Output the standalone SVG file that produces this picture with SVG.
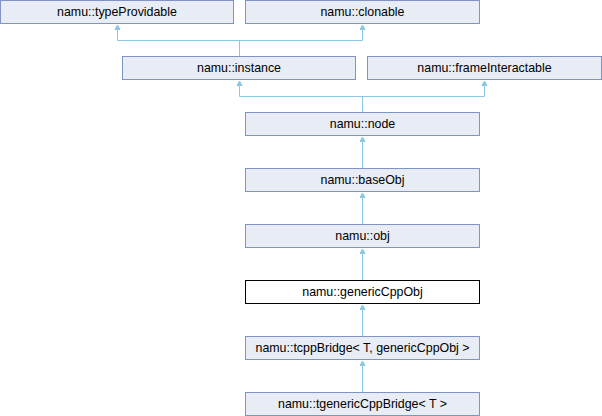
<svg xmlns="http://www.w3.org/2000/svg" width="602" height="416" viewBox="0 0 602 416">
<style>
.n rect{fill:#e8ecf4;stroke:#7f93c5;stroke-width:1}
.n text{font-family:"Liberation Sans",Arial,sans-serif;font-size:12.4px;fill:#000;text-anchor:middle}
.cur rect{fill:#fff;stroke:#000}
.e line,.e polyline{stroke:#8cc6e7;stroke-width:1;fill:none}
.e polygon{fill:#8cc6e7;stroke:#8cc6e7;stroke-width:1}
</style>
<rect width="602" height="416" fill="#fff"/>
<g class="e" id="connectors">
<polyline points="117.5,27 117.5,40.5 362.5,40.5 362.5,27"/>
<line x1="239.5" y1="40.5" x2="239.5" y2="56"/>
<polygon points="117.5,25 115,29.5 120,29.5"/>
<polygon points="362.5,25 360,29.5 365,29.5"/>
<polyline points="239.5,83 239.5,96.5 484.5,96.5 484.5,83"/>
<line x1="362.5" y1="96.5" x2="362.5" y2="112"/>
<polygon points="239.5,81 237,85.5 242,85.5"/>
<polygon points="484.5,81 482,85.5 487,85.5"/>
<line x1="362.5" y1="139" x2="362.5" y2="168"/>
<polygon points="362.5,137 360,141.5 365,141.5"/>
<line x1="362.5" y1="195" x2="362.5" y2="224"/>
<polygon points="362.5,193 360,197.5 365,197.5"/>
<line x1="362.5" y1="251" x2="362.5" y2="280"/>
<polygon points="362.5,249 360,253.5 365,253.5"/>
<line x1="362.5" y1="307" x2="362.5" y2="336"/>
<polygon points="362.5,305 360,309.5 365,309.5"/>
<line x1="362.5" y1="363" x2="362.5" y2="392"/>
<polygon points="362.5,361 360,365.5 365,365.5"/>
</g>
<g class="n" id="typeProvidable"><rect x="0.5" y="0.5" width="233" height="23"/><text x="117" y="16">namu::typeProvidable</text></g>
<g class="n" id="clonable"><rect x="245.5" y="0.5" width="234" height="23"/><text x="362.5" y="16">namu::clonable</text></g>
<g class="n" id="instance"><rect x="122.5" y="56.5" width="233" height="23"/><text x="239" y="72">namu::instance</text></g>
<g class="n" id="frameInteractable"><rect x="367.5" y="56.5" width="234" height="23"/><text x="484.5" y="72">namu::frameInteractable</text></g>
<g class="n" id="node"><rect x="245.5" y="112.5" width="234" height="23"/><text x="362.5" y="128">namu::node</text></g>
<g class="n" id="baseObj"><rect x="245.5" y="168.5" width="234" height="23"/><text x="362.5" y="184">namu::baseObj</text></g>
<g class="n" id="obj"><rect x="245.5" y="224.5" width="234" height="23"/><text x="362.5" y="240">namu::obj</text></g>
<g class="n cur" id="genericCppObj"><rect x="245.5" y="280.5" width="234" height="23"/><text x="362.5" y="296">namu::genericCppObj</text></g>
<g class="n" id="tcppBridge"><rect x="245.5" y="336.5" width="234" height="23"/><text x="362.5" y="352">namu::tcppBridge&lt; T, genericCppObj &gt;</text></g>
<g class="n" id="tgenericCppBridge"><rect x="245.5" y="392.5" width="234" height="23"/><text x="362.5" y="408">namu::tgenericCppBridge&lt; T &gt;</text></g>
</svg>
